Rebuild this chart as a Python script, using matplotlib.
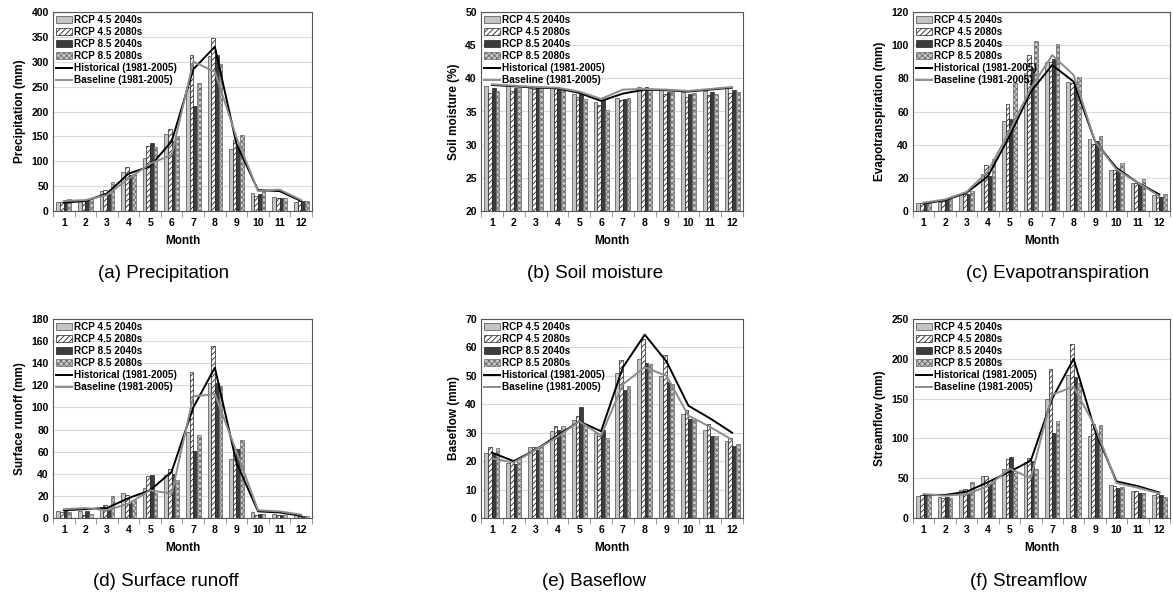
import numpy as np
import matplotlib.pyplot as plt
from matplotlib.ticker import MultipleLocator, FixedLocator

plt.rcParams['font.family'] = ['Liberation Sans', 'DejaVu Sans']
plt.rcParams['hatch.linewidth'] = 0.6

months = [1, 2, 3, 4, 5, 6, 7, 8, 9, 10, 11, 12]
series_labels = ['RCP 4.5 2040s', 'RCP 4.5 2080s', 'RCP 8.5 2040s', 'RCP 8.5 2080s',
                 'Historical (1981-2005)', 'Baseline (1981-2005)']

# (a) precipitation, mm
prec_45_40 = [19, 22, 41, 79, 107, 155, 250, 312, 125, 37, 29, 18]
prec_45_80 = [19, 22, 43, 89, 130, 164, 313, 348, 143, 30, 26, 20]
prec_85_40 = [23, 22, 35, 73, 136, 140, 211, 313, 130, 35, 26, 20]
prec_85_80 = [25, 27, 59, 75, 128, 151, 257, 295, 152, 40, 27, 20]
prec_hist = [17, 20, 35, 75, 90, 140, 285, 330, 135, 42, 40, 20]
prec_base = [20, 22, 32, 65, 95, 113, 300, 280, 148, 40, 43, 22]

# (b) soil moisture, %
soil_45_40 = [38.8, 38.9, 38.6, 38.6, 37.6, 36.4, 37.0, 38.7, 38.2, 37.9, 38.1, 38.5]
soil_45_80 = [37.8, 38.1, 38.4, 38.5, 37.2, 36.0, 36.7, 38.3, 37.6, 37.2, 37.5, 37.8]
soil_85_40 = [38.5, 38.6, 38.7, 38.5, 37.8, 36.7, 36.9, 38.7, 38.0, 37.7, 37.9, 38.3]
soil_85_80 = [38.1, 38.5, 38.5, 38.2, 36.9, 35.3, 37.0, 38.3, 37.9, 37.8, 37.7, 38.0]
soil_hist = [39.0, 38.8, 38.6, 38.5, 37.8, 36.6, 37.7, 38.3, 38.2, 38.0, 38.3, 38.6]
soil_base = [39.1, 38.9, 38.7, 38.6, 38.0, 36.9, 38.3, 38.4, 38.3, 38.1, 38.4, 38.7]

# (c) evapotranspiration, mm
et_45_40 = [5, 5.5, 10, 22.5, 54.5, 83, 90, 77.5, 43.5, 25, 17, 9.5]
et_45_80 = [5, 6, 10.5, 28, 64.5, 94, 90, 77, 40.5, 25, 17, 10]
et_85_40 = [4.5, 6.5, 10.5, 21, 55.5, 86, 91.5, 78, 42.5, 25.5, 16, 8.5]
et_85_80 = [5, 7, 12, 31.5, 77, 102.5, 101, 81, 45.5, 29, 19.5, 10]
et_hist = [4.5, 6.5, 11, 21, 45, 72, 88, 78, 42, 26, 17, 10]
et_base = [5, 7, 11.5, 24, 48, 74, 94, 82, 42, 25, 17, 9]

# (d) surface runoff, mm
sr_45_40 = [6, 6, 10, 23, 27, 39, 78, 122, 53, 5, 4, 3]
sr_45_80 = [5, 3, 12, 21, 38, 44, 132, 156, 62, 3, 3, 2]
sr_85_40 = [7, 6, 7, 14, 39, 40, 61, 122, 62, 4, 3, 2]
sr_85_80 = [5, 3.5, 20, 16, 23, 34, 75, 119, 71, 4, 3, 2]
sr_hist = [7, 8, 9, 18, 25, 42, 100, 136, 50, 6, 5, 2]
sr_base = [8, 9, 7, 13, 25, 22, 110, 112, 60, 7, 6, 3]

# (e) baseflow, mm
bf_45_40 = [23, 19.5, 25, 30.5, 34.5, 30, 51, 56, 50, 36.5, 31, 27]
bf_45_80 = [25, 20, 25, 32.5, 36, 29, 55.5, 63, 57.5, 38, 33, 28]
bf_85_40 = [23, 19, 24, 31, 39, 31, 45, 54.5, 48, 35, 29, 25.5]
bf_85_80 = [24.5, 21, 25.5, 32.5, 33, 28, 46.5, 54, 47, 34.5, 29, 26]
bf_hist = [23, 20, 24, 29, 34, 30.5, 53, 64.5, 55, 39.5, 35, 30]
bf_base = [21, 19.5, 24, 28.5, 34, 29, 47, 53, 50, 36, 32, 27.5]

# (f) streamflow, mm
sf_45_40 = [28, 26, 35, 53, 61, 70, 150, 180, 103, 41, 34, 29]
sf_45_80 = [29, 25, 37, 53, 74, 76, 187, 219, 118, 40, 34, 30]
sf_85_40 = [30, 27, 31, 43, 77, 71, 107, 177, 107, 38, 31, 29]
sf_85_80 = [28, 25, 45, 47, 57, 62, 122, 170, 117, 39, 32, 27]
sf_hist = [29, 29, 33, 45, 58, 72, 150, 200, 110, 46, 40, 32]
sf_base = [30, 28, 30, 40, 62, 50, 155, 165, 115, 44, 38, 31]


def draw_panel(ax, r45_40, r45_80, r85_40, r85_80, hist, base, ymin, ymax, ystep, ylabel):
    x = np.array(months)
    w = 0.17
    h = []
    h.append(ax.bar(x - 1.5 * w, r45_40, w, color='#c4c4c4', edgecolor='#4a4a4a', lw=0.5))
    h.append(ax.bar(x - 0.5 * w, r45_80, w, color='white', edgecolor='#222222', hatch='//////', lw=0.5))
    h.append(ax.bar(x + 0.5 * w, r85_40, w, color='#3c3c3c', edgecolor='#222222', lw=0.5))
    h.append(ax.bar(x + 1.5 * w, r85_80, w, color='#c8c8c8', edgecolor='#666666', hatch='xxxxxx', lw=0.5))
    h.append(ax.plot(x, hist, color='black', lw=1.4)[0])
    h.append(ax.plot(x, base, color='#8c8c8c', lw=1.4)[0])

    ax.set_xlim(0.5, 12.5)
    ax.set_ylim(ymin, ymax)
    ax.yaxis.set_major_locator(MultipleLocator(ystep))
    ax.set_xticks(x)
    ax.xaxis.set_minor_locator(FixedLocator(np.arange(0.5, 13, 1)))
    ax.tick_params(axis='x', which='major', length=0, pad=5)
    ax.tick_params(axis='x', which='minor', length=4, direction='out', color='#888888')
    ax.tick_params(axis='y', length=0, pad=3)
    ax.tick_params(labelsize=7.5)
    for lab in ax.get_xticklabels() + ax.get_yticklabels():
        lab.set_fontweight('bold')
    ax.grid(axis='y', color='#d9d9d9', lw=0.8)
    ax.set_axisbelow(True)
    for s in ax.spines.values():
        s.set_color('#555555')
        s.set_linewidth(0.8)
    ax.set_xlabel('Month', fontsize=8.5, fontweight='bold', labelpad=5)
    ax.set_ylabel(ylabel, fontsize=8.5, fontweight='bold', labelpad=4)
    ax.legend(h, series_labels, loc='upper left', frameon=False,
              prop={'size': 7.2, 'weight': 'bold'}, labelspacing=0.2,
              handlelength=1.6, handletextpad=0.15, borderaxespad=0.2,
              borderpad=0.1)


fig = plt.figure(figsize=(11.73, 5.96), dpi=100)

W, H = 1173, 596
lefts = [53, 481, 913]
widths = [259, 262, 257]
tops = [12, 319]
cap_x = [164, 595, 1058, 166, 594, 1028]
cap_y = [273, 582]

panels = [
    (prec_45_40, prec_45_80, prec_85_40, prec_85_80, prec_hist, prec_base, 0, 400, 50, 'Precipitation (mm)', '(a) Precipitation'),
    (soil_45_40, soil_45_80, soil_85_40, soil_85_80, soil_hist, soil_base, 20, 50, 5, 'Soil moisture (%)', '(b) Soil moisture'),
    (et_45_40, et_45_80, et_85_40, et_85_80, et_hist, et_base, 0, 120, 20, 'Evapotranspiration (mm)', '(c) Evapotranspiration'),
    (sr_45_40, sr_45_80, sr_85_40, sr_85_80, sr_hist, sr_base, 0, 180, 20, 'Surface runoff (mm)', '(d) Surface runoff'),
    (bf_45_40, bf_45_80, bf_85_40, bf_85_80, bf_hist, bf_base, 0, 70, 10, 'Baseflow (mm)', '(e) Baseflow'),
    (sf_45_40, sf_45_80, sf_85_40, sf_85_80, sf_hist, sf_base, 0, 250, 50, 'Streamflow (mm)', '(f) Streamflow'),
]

for i, p in enumerate(panels):
    row, col = divmod(i, 3)
    left = lefts[col]
    width = widths[col]
    top = tops[row]
    ax = fig.add_axes([left / W, 1 - (top + 199) / H, width / W, 199 / H])
    draw_panel(ax, *p[:10])
    fig.text(cap_x[i] / W, 1 - cap_y[row] / H, p[10],
             ha='center', va='center', fontsize=13.5)

fig.savefig('out.png', dpi=100)
